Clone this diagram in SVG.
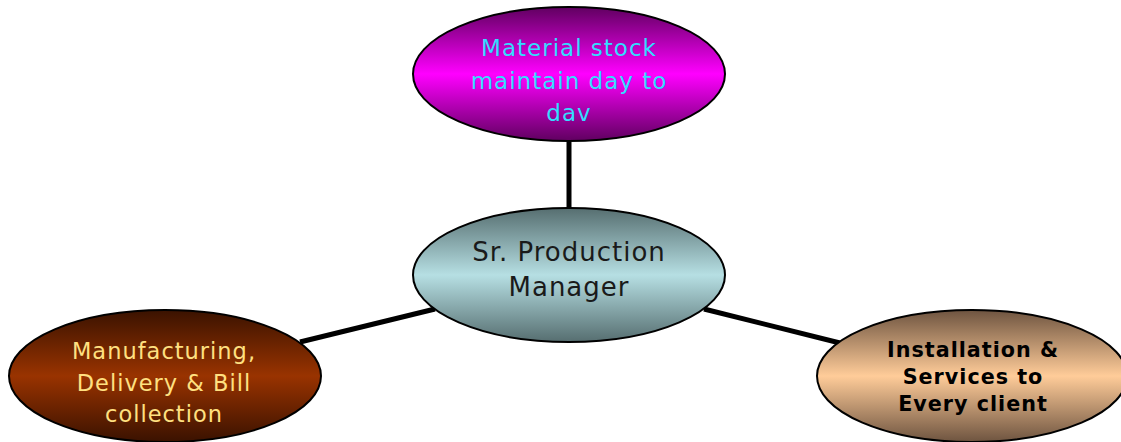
<svg xmlns="http://www.w3.org/2000/svg" width="1121" height="442" viewBox="0 0 1121 442">
<defs>
<linearGradient id="gTop" x1="0" y1="0" x2="0" y2="1">
<stop offset="0" stop-color="#600060"/><stop offset="0.5" stop-color="#FF00FF"/><stop offset="1" stop-color="#600060"/>
</linearGradient>
<linearGradient id="gMid" x1="0" y1="0" x2="0" y2="1">
<stop offset="0" stop-color="#566E70"/><stop offset="0.5" stop-color="#B6DFE3"/><stop offset="1" stop-color="#566E70"/>
</linearGradient>
<linearGradient id="gLeft" x1="0" y1="0" x2="0" y2="1">
<stop offset="0" stop-color="#3A1200"/><stop offset="0.5" stop-color="#993300"/><stop offset="1" stop-color="#3A1200"/>
</linearGradient>
<linearGradient id="gRight" x1="0" y1="0" x2="0" y2="1">
<stop offset="0" stop-color="#6E5440"/><stop offset="0.5" stop-color="#FFCC99"/><stop offset="1" stop-color="#6E5440"/>
</linearGradient>
</defs>
<style>
.node ellipse{stroke:#000;stroke-width:2}
.conn line{stroke:#000;stroke-width:5}
text{font-family:"DejaVu Sans",Verdana,sans-serif;text-anchor:middle;letter-spacing:1px}
.t1{font-size:23px;fill:#33DDFF}
.t2{font-size:26px;fill:#1A1A1A}
.t3{font-size:22.5px;fill:#FFE080}
.t4{font-size:20.7px;font-weight:bold;fill:#000}
</style>
<g id="connectors" class="conn">
<line x1="569" y1="142" x2="569" y2="208"/>
<line x1="435" y1="309" x2="300" y2="342"/>
<line x1="704" y1="309" x2="840" y2="343"/>
</g>
<g id="node-top" class="node">
<ellipse cx="569" cy="74" rx="156" ry="67" fill="url(#gTop)"/>
<text class="t1"><tspan x="569" y="56">Material stock</tspan><tspan x="569" y="89">maintain day to</tspan><tspan x="569" y="121">dav</tspan></text>
</g>
<g id="node-center" class="node">
<ellipse cx="569" cy="275" rx="156" ry="67" fill="url(#gMid)"/>
<text class="t2"><tspan x="569" y="261">Sr. Production</tspan><tspan x="569" y="296">Manager</tspan></text>
</g>
<g id="node-left" class="node">
<ellipse cx="165" cy="376" rx="156" ry="66" fill="url(#gLeft)"/>
<text class="t3"><tspan x="164" y="359">Manufacturing,</tspan><tspan x="164" y="391">Delivery &amp; Bill</tspan><tspan x="164" y="422">collection</tspan></text>
</g>
<g id="node-right" class="node">
<ellipse cx="972" cy="376" rx="155" ry="66" fill="url(#gRight)"/>
<text class="t4"><tspan x="973" y="357">Installation &amp;</tspan><tspan x="973" y="384">Services to</tspan><tspan x="973" y="411">Every client</tspan></text>
</g>
</svg>
